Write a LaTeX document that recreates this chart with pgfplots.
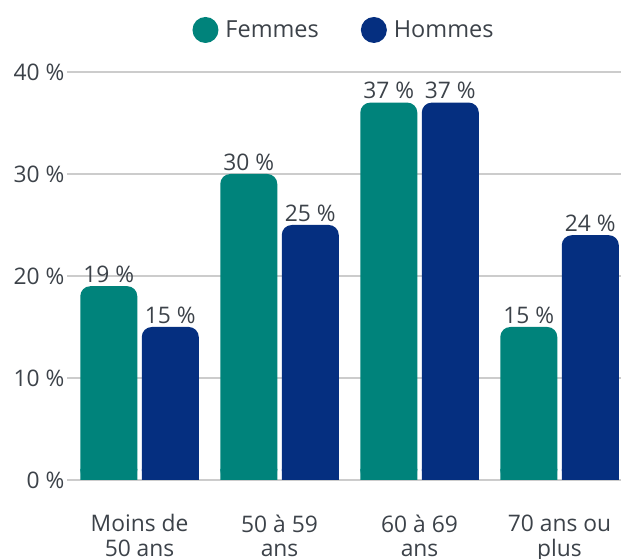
\documentclass[border=0pt]{standalone}
\usepackage{fontspec}
\setmainfont{Open Sans}
\usepackage{pgfplots}
\pgfplotsset{compat=1.18}
\definecolor{cfem}{HTML}{00837B}
\definecolor{chom}{HTML}{052F80}
\definecolor{ctxt}{HTML}{3C4249}
\definecolor{cgrid}{HTML}{CCCCCC}
\begin{document}
\begin{tikzpicture}[font=\fontsize{22.8}{25}\selectfont, text=ctxt]
\useasboundingbox (0,0) rectangle (621pt,559pt);
\begin{axis}[
  at={(67pt,79pt)}, anchor=south west,
  scale only axis, width=554pt, height=408pt,
  xmin=-0.518, xmax=3.439, ymin=0, ymax=40,
  clip=false,
  ybar,
  /pgf/number format/assume math mode=true,
  axis line style={draw=none},
  major tick length=0pt,
  ymajorgrids, grid style={cgrid, line width=1.2pt},
  ytick={0,10,20,30,40},
  yticklabels={0 \%,10 \%,20 \%,30 \%,40 \%},
  xtick={0,1,2,3},
  xticklabels={Moins de\\50 ans, 50 à 59\\ans, 60 à 69\\ans, 70 ans ou\\plus},
  xticklabel style={align=center, text=ctxt, yshift=-31pt,
    font=\fontsize{22.8}{25}\selectfont},
  yticklabel style={text=ctxt, xshift=1pt},
  legend image code/.code={\fill[#1] (0pt,0pt) circle (13pt); \path (18pt,0pt);},
  legend style={at={(0.5,1.103)}, anchor=center, draw=none, fill=none,
    legend columns=2, text=ctxt, font=\fontsize{23.5}{26}\selectfont,
    /tikz/every even column/.append style={column sep=40pt}},
  legend cell align=left,
]
\addplot[fill=cfem, draw=none, bar width=57pt, bar shift=-30.75pt, rounded corners=10pt,
  nodes near coords={\pgfmathprintnumber{\pgfplotspointmeta}~\%},
  nodes near coords style={text=ctxt}]
  coordinates {(0,19) (1,30) (2,37) (3,15)};
\addlegendentry{Femmes}
\addplot[fill=chom, draw=none, bar width=57pt, bar shift=30.75pt, rounded corners=10pt,
  nodes near coords={\pgfmathprintnumber{\pgfplotspointmeta}~\%},
  nodes near coords style={text=ctxt}]
  coordinates {(0,15) (1,25) (2,37) (3,24)};
\addlegendentry{Hommes}
\addplot[forget plot, fill=cfem, draw=none, bar width=57pt, bar shift=-30.75pt]
  coordinates {(0,1.1) (1,1.1) (2,1.1) (3,1.1)};
\addplot[forget plot, fill=chom, draw=none, bar width=57pt, bar shift=30.75pt]
  coordinates {(0,1.1) (1,1.1) (2,1.1) (3,1.1)};
\end{axis}
\end{tikzpicture}
\end{document}
